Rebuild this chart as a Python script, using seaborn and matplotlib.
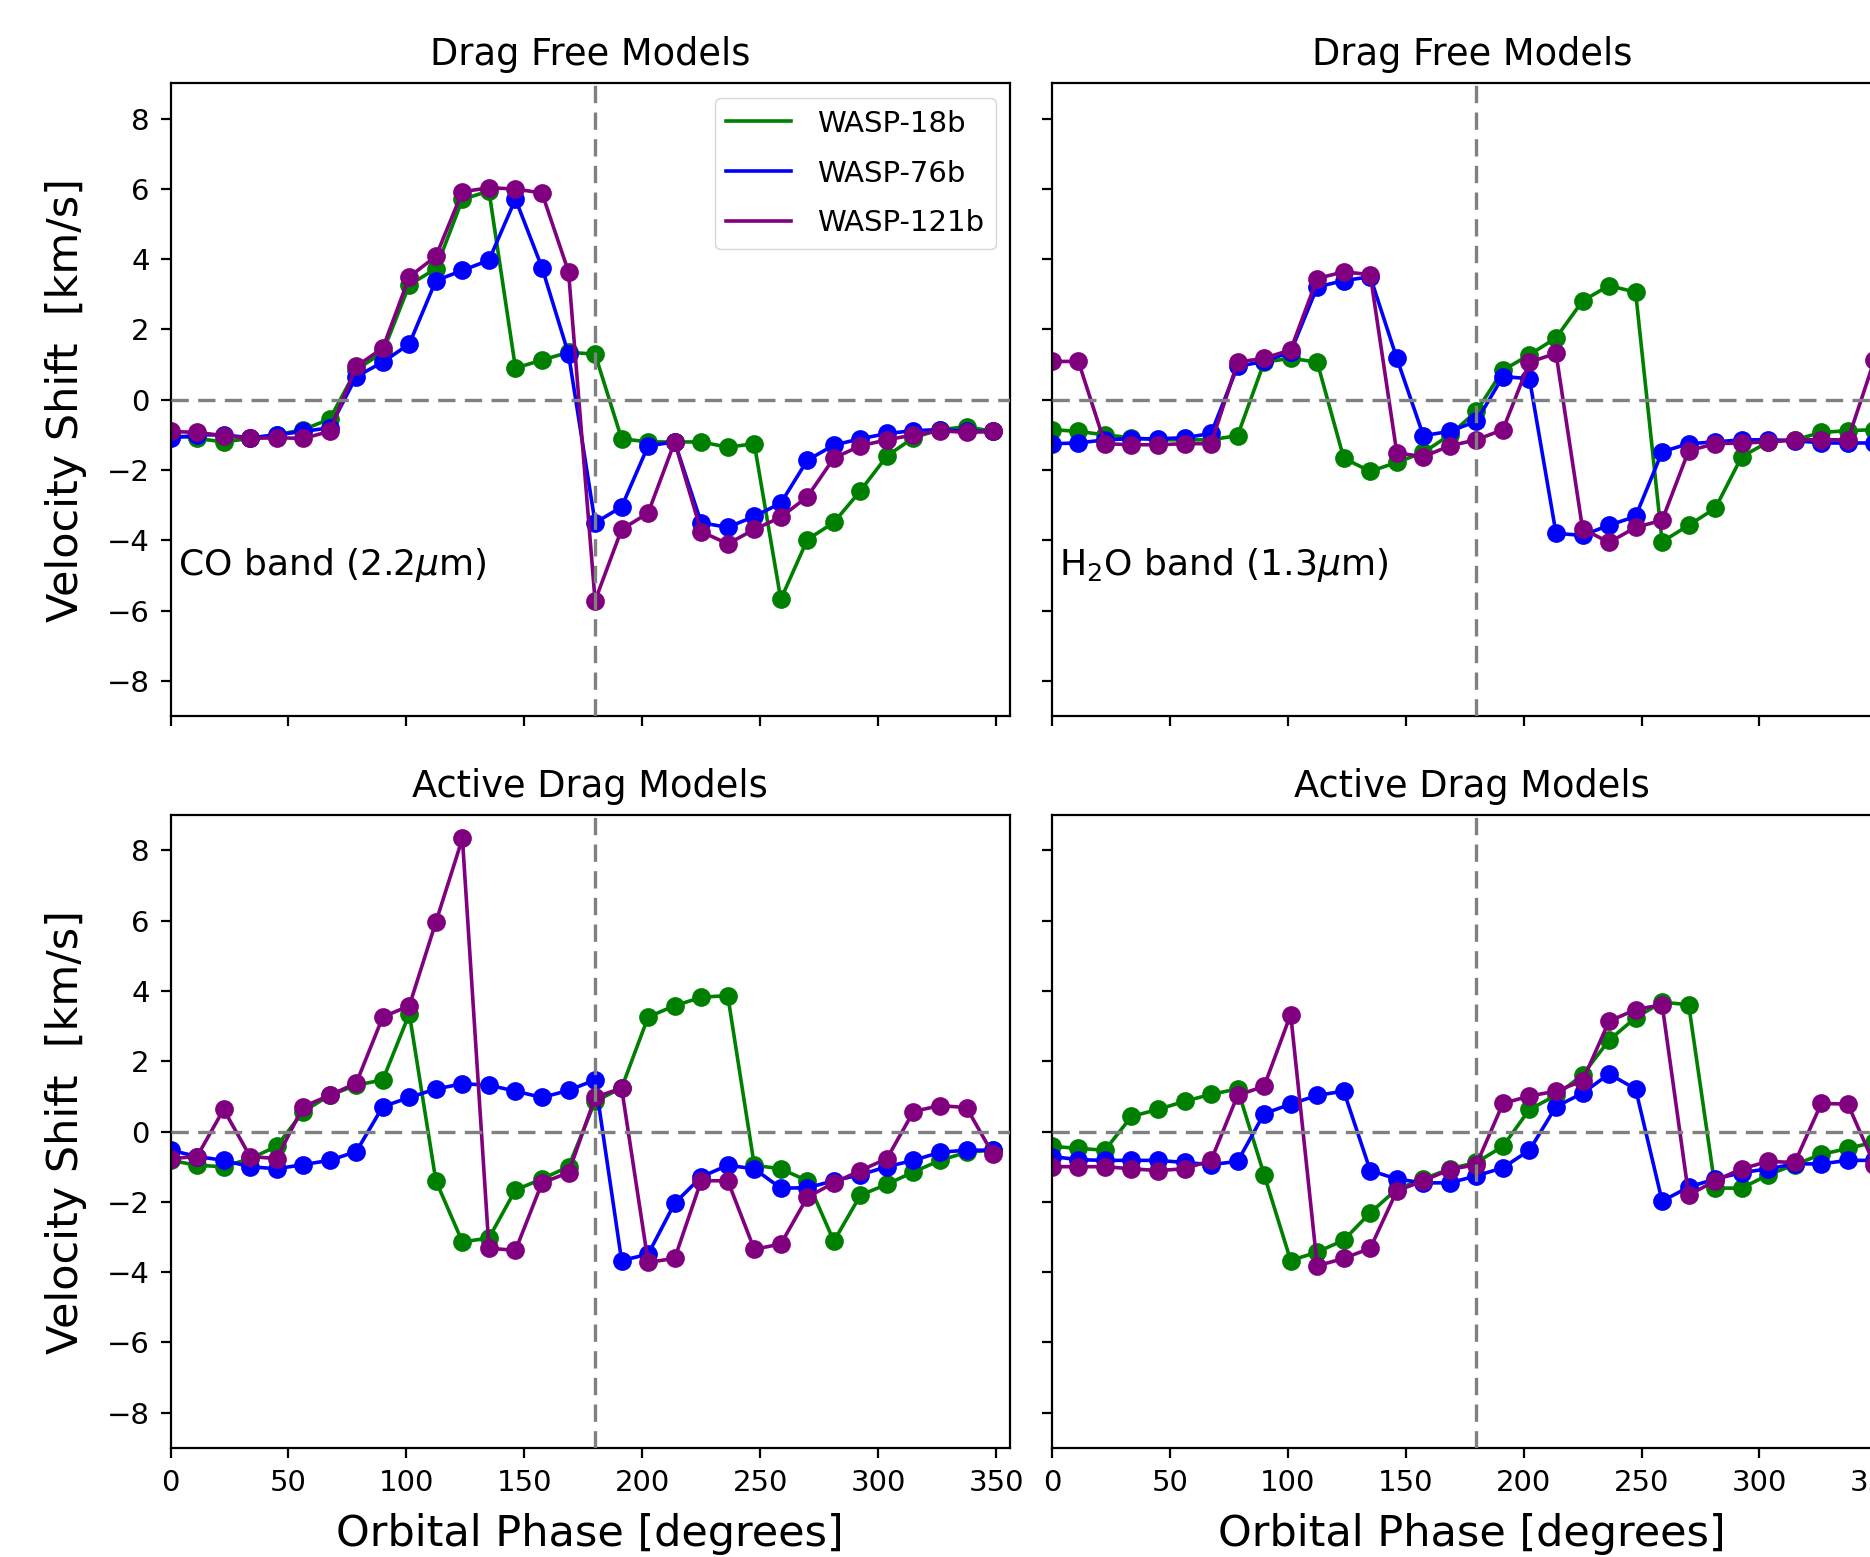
import numpy as np
import pandas as pd
import matplotlib
matplotlib.use("Agg")
import matplotlib.pyplot as plt
from matplotlib.lines import Line2D
import seaborn as sns

phase = [0, 11.25, 22.5, 33.75, 45, 56.25, 67.5, 78.75, 90, 101.25, 112.5, 123.75,
         135, 146.25, 157.5, 168.75, 180, 191.25, 202.5, 213.75, 225, 236.25, 247.5,
         258.75, 270, 281.25, 292.5, 303.75, 315, 326.25, 337.5, 348.75]

planets = ["WASP-18b", "WASP-76b", "WASP-121b"]
colors = ["green", "blue", "purple"]

# Drag free, CO band
co_free_w18 = [-1.0, -1.1, -1.2, -1.1, -1.0, -0.85, -0.55, 0.85, 1.35, 3.27, 3.73, 5.7,
               5.94, 0.9, 1.13, 1.35, 1.3, -1.11, -1.2, -1.2, -1.2, -1.35, -1.25, -5.68,
               -3.98, -3.49, -2.59, -1.6, -1.08, -0.85, -0.77, -0.9]
co_free_w76 = [-1.1, -1.0, -1.0, -1.08, -1.0, -0.9, -0.8, 0.66, 1.07, 1.59, 3.39, 3.68,
               3.97, 5.71, 3.76, 1.3, -3.5, -3.05, -1.31, -1.2, -3.5, -3.63, -3.32, -2.94,
               -1.72, -1.29, -1.11, -0.96, -0.88, -0.85, -0.9, -0.9]
co_free_w121 = [-0.9, -0.93, -1.02, -1.1, -1.08, -1.1, -0.9, 0.95, 1.47, 3.5, 4.08, 5.92,
                6.03, 6.0, 5.88, 3.64, -5.72, -3.69, -3.22, -1.2, -3.75, -4.1, -3.69, -3.34,
                -2.76, -1.66, -1.31, -1.14, -1.0, -0.88, -0.93, -0.9]

# Drag free, H2O band
h2o_free_w18 = [-0.85, -0.9, -1.0, -1.08, -1.14, -1.14, -1.14, -1.02, 1.07, 1.18, 1.07, -1.66,
                -2.04, -1.78, -1.5, -1.0, -0.33, 0.84, 1.28, 1.76, 2.81, 3.25, 3.06, -4.04,
                -3.57, -3.09, -1.62, -1.2, -1.14, -0.93, -0.88, -0.85]
h2o_free_w76 = [-1.25, -1.23, -1.14, -1.11, -1.11, -1.08, -0.96, 0.95, 1.09, 1.36, 3.21, 3.39,
                3.5, 1.18, -1.02, -0.9, -0.61, 0.66, 0.6, -3.8, -3.86, -3.57, -3.32, -1.48,
                -1.25, -1.2, -1.14, -1.14, -1.16, -1.23, -1.23, -1.23]
h2o_free_w121 = [1.09, 1.09, -1.25, -1.28, -1.28, -1.25, -1.25, 1.07, 1.18, 1.42, 3.45, 3.64,
                 3.56, -1.51, -1.62, -1.31, -1.14, -0.85, 1.07, 1.32, -3.67, -4.06, -3.63, -3.43,
                 -1.45, -1.25, -1.23, -1.2, -1.14, -1.14, -1.14, 1.13]

# Active drag, CO band
co_drag_w18 = [-0.82, -0.96, -1.0, -0.77, -0.42, 0.57, 1.03, 1.32, 1.47, 3.35, -1.4, -3.14,
               -3.03, -1.66, -1.35, -1.0, 0.86, 1.24, 3.26, 3.58, 3.82, 3.87, -0.96, -1.06,
               -1.4, -3.12, -1.81, -1.5, -1.15, -0.82, -0.59, -0.53]
co_drag_w76 = [-0.53, -0.71, -0.82, -1.0, -1.06, -0.94, -0.82, -0.57, 0.71, 0.97, 1.21, 1.36,
               1.32, 1.15, 0.97, 1.17, 1.47, -3.67, -3.49, -2.04, -1.29, -0.96, -1.06, -1.61,
               -1.6, -1.4, -1.23, -1.0, -0.82, -0.59, -0.53, -0.53]
co_drag_w121 = [-0.77, -0.71, 0.63, -0.71, -0.77, 0.71, 1.03, 1.38, 3.26, 3.58, 5.96, 8.34,
                -3.32, -3.38, -1.46, -1.17, 0.97, 1.24, -3.72, -3.61, -1.4, -1.4, -3.35, -3.2,
                -1.87, -1.46, -1.11, -0.77, 0.57, 0.74, 0.68, -0.65]

# Active drag, H2O band
h2o_drag_w18 = [-0.42, -0.48, -0.53, 0.43, 0.63, 0.86, 1.06, 1.21, -1.23, -3.67, -3.43, -3.09,
                -2.31, -1.64, -1.35, -1.06, -0.88, -0.42, 0.63, 1.03, 1.61, 2.6, 3.24, 3.68,
                3.61, -1.61, -1.61, -1.23, -0.94, -0.65, -0.48, -0.3]
h2o_drag_w76 = [-0.71, -0.8, -0.82, -0.82, -0.82, -0.88, -0.94, -0.85, 0.51, 0.78, 1.03, 1.15,
                -1.11, -1.35, -1.46, -1.46, -1.26, -1.03, -0.53, 0.71, 1.09, 1.64, 1.21, -1.98,
                -1.58, -1.35, -1.17, -1.06, -0.92, -0.92, -0.82, -0.82]
h2o_drag_w121 = [-1.0, -1.0, -1.0, -1.06, -1.11, -1.06, -0.82, 1.03, 1.29, 3.33, -3.82, -3.61,
                 -3.32, -1.69, -1.4, -1.08, -0.94, 0.8, 1.01, 1.15, 1.44, 3.14, 3.47, 3.61,
                 -1.81, -1.4, -1.06, -0.85, -0.88, 0.8, 0.78, -0.94]

panel_titles = ["Drag Free Models", "Drag Free Models", "Active Drag Models", "Active Drag Models"]
band_labels = ["CO band (2.2$\\mu$m)", "H$_2$O band (1.3$\\mu$m)"]
xticks = [0, 50, 100, 150, 200, 250, 300, 350]
yticks = [-8, -6, -4, -2, 0, 2, 4, 6, 8]

panels = [
    [co_free_w18, co_free_w76, co_free_w121],
    [h2o_free_w18, h2o_free_w76, h2o_free_w121],
    [co_drag_w18, co_drag_w76, co_drag_w121],
    [h2o_drag_w18, h2o_drag_w76, h2o_drag_w121],
]

plt.rcParams["font.family"] = ["DejaVu Sans"]
plt.rcParams["axes.linewidth"] = 1.6

fig = plt.figure(figsize=(18.7, 15.57), dpi=100)
W = 0.449
H = 0.4063
positions = [
    [0.0912, 0.5401, W, H],
    [0.5625, 0.5401, W, H],
    [0.0912, 0.0701, W, H],
    [0.5625, 0.0701, W, H],
]

for i, (pos, series) in enumerate(zip(positions, panels)):
    ax = fig.add_axes(pos)
    frames = []
    for name, vals in zip(planets, series):
        frames.append(pd.DataFrame({"phase": phase, "v": vals, "planet": name}))
    df = pd.concat(frames, ignore_index=True)
    sns.lineplot(data=df, x="phase", y="v", hue="planet", hue_order=planets,
                 palette=colors, marker="o", markersize=13.5, markeredgewidth=0,
                 linewidth=2.6, sort=False, legend=False, ax=ax, zorder=2)
    ax.axhline(0, color="gray", lw=2.4, ls=(0, (5.2, 2.8)), zorder=3)
    ax.axvline(180, color="gray", lw=2.4, ls=(0, (5.2, 2.8)), zorder=3)
    ax.set_xlim(0, 356)
    ax.set_ylim(-9, 9)
    ax.set_xticks(xticks)
    ax.set_yticks(yticks)
    ax.tick_params(axis="both", length=7, width=1.6, labelsize=21, pad=8)
    ax.set_title(panel_titles[i], fontsize=26.5, pad=13)
    ax.set_xlabel("")
    ax.set_ylabel("")
    if i in (0, 1):
        ax.tick_params(axis="x", labelbottom=False)
        ax.text(3, -4.7, band_labels[i], fontsize=26, va="center", ha="left")
    else:
        ax.set_xlabel("Orbital Phase [degrees]", fontsize=31, labelpad=12)
    if i in (1, 3):
        ax.tick_params(axis="y", labelleft=False)
    else:
        ax.set_ylabel("Velocity Shift  [km/s]", fontsize=31, labelpad=14)
    if i == 0:
        handles = [Line2D([0], [0], color=c, lw=2.6) for c in colors]
        ax.legend(handles, planets, loc="upper right", fontsize=21, handlelength=2.2,
                  labelspacing=0.75, handletextpad=0.9)

fig.savefig("out.png", dpi=100)
